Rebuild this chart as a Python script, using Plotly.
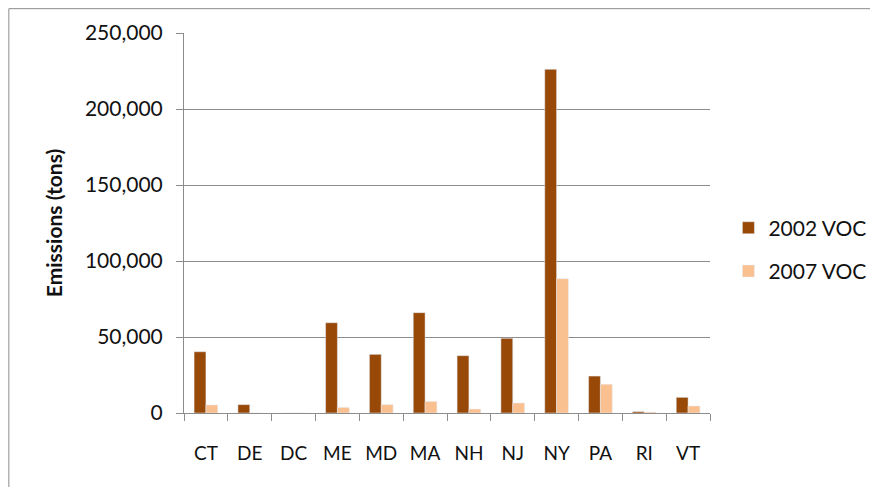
import plotly.graph_objects as go

states = ["CT", "DE", "DC", "ME", "MD", "MA", "NH", "NJ", "NY", "PA", "RI", "VT"]
voc_2002 = [40300, 5500, 0, 59400, 38600, 66000, 37700, 49100, 226100, 24300, 900, 10300]
voc_2007 = [5300, 0, 0, 3700, 5500, 7600, 2600, 6600, 88400, 18900, 600, 4600]
y_ticks = [0, 50000, 100000, 150000, 200000, 250000]

FONT = "Lato, 'Open Sans', sans-serif"
GRID = "#8c8c8c"
TXT = "#111111"

fig = go.Figure()
fig.add_trace(go.Bar(x=states, y=voc_2002, name="2002 VOC", marker_color="#984807",
                     legendgroup="a"))
fig.add_trace(go.Bar(x=states, y=voc_2007, name="2007 VOC", marker_color="#FAC090",
                     legendgroup="b"))

fig.update_layout(
    width=870, height=479,
    margin=dict(l=176, r=168, t=25, b=74, autoexpand=False),
    paper_bgcolor="white", plot_bgcolor="white",
    barmode="group", bargap=0.46, bargroupgap=0,
    font=dict(family=FONT, size=19, color=TXT),
    showlegend=True,
    legend=dict(x=1.035, y=0.43, xanchor="left", yanchor="middle",
                font=dict(size=21, color=TXT), tracegroupgap=13,
                bgcolor="rgba(0,0,0,0)"),
    xaxis=dict(type="category", showline=True, linecolor=GRID, linewidth=1,
               ticks="outside", tickson="boundaries", ticklen=7, tickcolor=GRID,
               showgrid=False, tickfont=dict(size=19, color=TXT),
               ticklabelstandoff=23, automargin=False),
    yaxis=dict(range=[0, 250000], tickvals=y_ticks, tickformat=",d",
               showline=True, linecolor=GRID, linewidth=1,
               ticks="outside", ticklen=7, tickcolor=GRID,
               showgrid=True, gridcolor=GRID, gridwidth=1, zeroline=False,
               tickfont=dict(size=21, color=TXT), ticklabelstandoff=9,
               automargin=False,
               title=dict(text="<b>Emissions (tons)</b>", font=dict(size=21, color=TXT),
                          standoff=16)),
    shapes=[dict(type="rect", xref="paper", yref="paper",
                 x0=-0.333, x1=1.5, y0=-0.4, y1=1.064,
                 line=dict(color="#8c8c8c", width=1), fillcolor="rgba(0,0,0,0)",
                 layer="below")],
)

fig.write_html("out.html")
